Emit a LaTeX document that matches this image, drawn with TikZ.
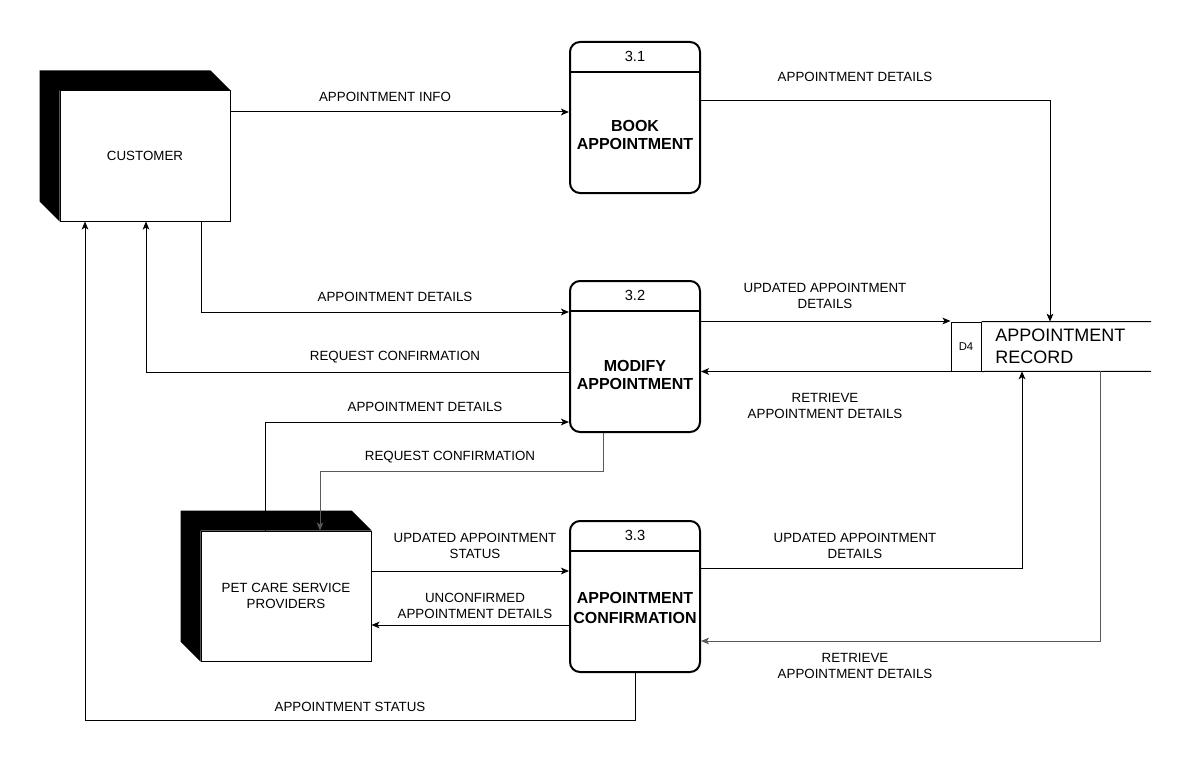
\documentclass[tikz,border=0pt]{standalone}
\usepackage{fontspec}
\setmainfont{Liberation Sans}
\usepackage{tikz}
\usetikzlibrary{arrows.meta,calc}

\begin{document}
\begin{tikzpicture}[x=0.75pt,y=-0.75pt,
  flow/.style={draw,line width=0.75pt,-{Stealth[length=6pt,width=5pt,inset=1.5pt]}},
  greyflow/.style={flow,draw=black!65},
  ent/.style={draw,line width=0.75pt,fill=white,minimum width=127.5pt,minimum height=97.5pt,inner sep=0pt,align=center,font=\fontsize{10}{12}\selectfont},
  proc/.style={draw,line width=1.5pt,rounded corners=7.5pt,minimum width=97.5pt,minimum height=113.25pt,inner sep=0pt},
  pid/.style={anchor=north,minimum width=97.5pt,minimum height=22.5pt,inner sep=0pt,font=\fontsize{11}{13}\selectfont},
  ptext/.style={align=center,font=\bfseries\fontsize{12}{14}\selectfont},
  lbl/.style={align=center,inner sep=0pt,font=\fontsize{10}{12}\selectfont}]
\fill[white] (0,0) rectangle (1191,770);
\useasboundingbox (0,0) rectangle (1191,770);

% external entities
\node[ent] (c) at (145,156) {CUSTOMER};
\fill ($(c.north west)+(-20,-20)$) -- ($(c.north east)+(-20,-20)$) -- (c.north east) -- (c.north west) -- (c.south west) -- ($(c.south west)+(-20,-20)$) -- cycle;
\node[ent] (s) at (286,596) {PET CARE SERVICE\\PROVIDERS};
\fill ($(s.north west)+(-20,-20)$) -- ($(s.north east)+(-20,-20)$) -- (s.north east) -- (s.north west) -- (s.south west) -- ($(s.south west)+(-20,-20)$) -- cycle;

% processes
\node[proc] (p1) at (635,117.5) {};
\node[pid] (p1id) at (p1.north) {3.1};
\draw[line width=1.5pt] (p1id.south west) -- (p1id.south east);
\node[ptext] (t1) at (635,135) {BOOK\\APPOINTMENT};

\node[proc] (p2) at (635,356.5) {};
\node[pid] (p2id) at (p2.north) {3.2};
\draw[line width=1.5pt] (p2id.south west) -- (p2id.south east);
\node[ptext] (t2) at (635,375) {MODIFY\\APPOINTMENT};

\node[proc] (p3) at (635,596.5) {};
\node[pid] (p3id) at (p3.north) {3.3};
\draw[line width=1.5pt] (p3id.south west) -- (p3id.south east);
\node[ptext,font=\bfseries\fontsize{12}{15}\selectfont] (t3) at (635,607.5) {APPOINTMENT\\CONFIRMATION};

% data store
\node[draw,line width=0.75pt,minimum width=22.5pt,minimum height=36.75pt,inner sep=0pt,font=\fontsize{8.5}{10}\selectfont] (d4) at (966,346.5) {D4};
\node[anchor=west,minimum width=126.75pt,minimum height=36.75pt,inner sep=0pt] (ds) at (d4.east) {};
\draw[line width=0.75pt] (d4.north east) -- (ds.north east);
\draw[line width=0.75pt] (d4.south east) -- (ds.south east);
\node[anchor=west,align=left,inner sep=0pt,font=\fontsize{13.5}{16.5}\selectfont] (dst) at (995,346) {APPOINTMENT\\RECORD};

% flows
\draw[flow] (c.east |- 0,112) -- (p1.west |- 0,112);
\node[lbl] (l1) at (385,97) {APPOINTMENT INFO};
\draw[flow] (p1.east |- 0,101) -| (ds.north -| 1050,0);
\node[lbl] (l2) at (855,77) {APPOINTMENT DETAILS};
\draw[flow] (c.south -| 201,0) |- (p2.west |- 0,312);
\node[lbl] (l3) at (395,297) {APPOINTMENT DETAILS};
\draw[flow] (p2.west |- 0,372) -| (c.south -| 146,0);
\node[lbl] (l4) at (395,357) {REQUEST CONFIRMATION};
\draw[flow] (p2.east |- 0,321) -- (d4.west |- 0,321);
\node[lbl] (l5) at (825,296) {UPDATED APPOINTMENT\\DETAILS};
\draw[flow] (d4.south west) -- (p2.east |- d4.south);
\node[lbl] (l6) at (825,406) {RETRIEVE\\APPOINTMENT DETAILS};
\draw[flow] (s.north -| 265,0) |- (p2.west |- 0,422);
\node[lbl] (l7) at (425,407) {APPOINTMENT DETAILS};
\draw[greyflow] (p2.south -| 603,0) -- (603,471) -| (s.north -| 320,0);
\node[lbl] (l8) at (450,457) {REQUEST CONFIRMATION};
\draw[flow] (s.east |- 0,571) -- (p3.west |- 0,571);
\node[lbl] (l9) at (475,546) {UPDATED APPOINTMENT\\STATUS};
\draw[flow] (p3.west |- 0,625) -- (s.east |- 0,625);
\node[lbl] (l10) at (475,606) {UNCONFIRMED\\APPOINTMENT DETAILS};
\draw[flow] (p3.east |- 0,568) -| (ds.south -| 1022,0);
\node[lbl] (l11) at (855,546) {UPDATED APPOINTMENT\\DETAILS};
\draw[greyflow] (ds.south -| 1100,0) |- (p3.east |- 0,641);
\node[lbl] (l12) at (855,666) {RETRIEVE\\APPOINTMENT DETAILS};
\draw[flow] (p3.south) -- (p3.south |- 0,720) -| (c.south -| 85,0);
\node[lbl] (l13) at (350,707) {APPOINTMENT STATUS};
\end{tikzpicture}
\end{document}
